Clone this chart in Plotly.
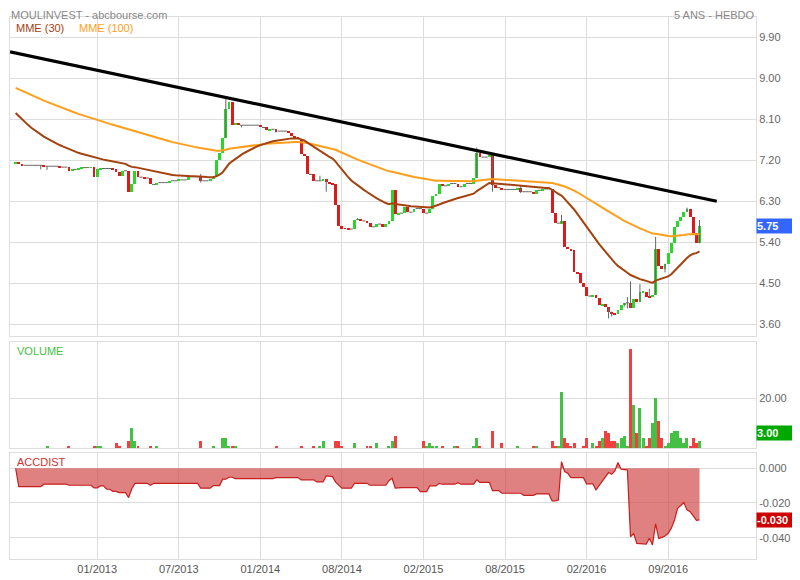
import plotly.graph_objects as go
from plotly.subplots import make_subplots

# ---------------- data (weekly bars) ----------------
closes = [
    7.17, 7.12, 7.09, 7.09, 7.09, 7.09, 7.09, 7.09, 7.09, 7.07,
    7.07, 7.07, 7.07, 7.07, 7.05, 7.05, 7.05, 6.97, 7.00, 7.00,
    7.03, 7.04, 7.04, 7.04, 7.05, 6.83, 7.00, 7.02, 7.02, 7.02,
    7.02, 7.00, 6.94, 6.86, 6.97, 6.97, 6.51, 6.67, 6.97, 6.83,
    6.83, 6.81, 6.81, 6.67, 6.67, 6.71, 6.71, 6.71, 6.71, 6.75,
    6.75, 6.75, 6.77, 6.77, 6.77, 6.84, 6.84, 6.84, 6.84, 6.75,
    6.75, 6.75, 6.79, 6.83, 7.21, 7.36, 7.70, 8.33, 8.49, 7.97,
    8.02, 7.97, 7.97, 7.97, 7.97, 7.97, 7.97, 7.97, 7.92, 7.92,
    7.86, 7.88, 7.88, 7.84, 7.84, 7.84, 7.84, 7.80, 7.74, 7.69,
    7.67, 7.34, 7.29, 6.89, 6.89, 6.75, 6.75, 6.75, 6.79, 6.72,
    6.69, 6.67, 6.21, 5.75, 5.71, 5.70, 5.69, 5.69, 5.89, 5.90,
    5.87, 5.87, 5.82, 5.74, 5.74, 5.80, 5.80, 5.73, 5.80, 5.87,
    6.54, 6.02, 6.04, 6.04, 6.17, 6.06, 6.06, 6.14, 6.14, 6.14,
    6.04, 6.04, 6.13, 6.42, 6.45, 6.69, 6.64, 6.64, 6.69, 6.69,
    6.69, 6.62, 6.62, 6.69, 6.69, 6.69, 6.82, 7.35, 7.27, 7.27,
    7.27, 7.32, 6.65, 6.60, 6.60, 6.56, 6.56, 6.56, 6.56, 6.56,
    6.60, 6.51, 6.51, 6.51, 6.51, 6.46, 6.54, 6.54, 6.57, 6.57,
    6.57, 6.05, 5.82, 5.82, 5.86, 5.29, 5.26, 5.23, 4.75, 4.72,
    4.50, 4.43, 4.22, 4.22, 4.24, 4.17, 4.02, 4.04, 3.97, 3.88,
    3.84, 3.82, 3.92, 4.02, 4.07, 4.07, 3.96, 4.15, 4.10, 4.30,
    4.32, 4.21, 4.19, 4.25, 5.26, 4.87, 4.82, 4.93, 5.16, 5.38,
    5.74, 5.86, 5.96, 6.07, 6.13, 5.96, 5.61, 5.38, 5.75,
]

opens = [
    7.13, 7.17, 7.12, 7.09, 7.09, 7.09, 7.09, 7.09, 7.09, 7.09,
    7.07, 7.07, 7.07, 7.07, 7.07, 7.05, 7.05, 7.05, 6.97, 7.00,
    7.00, 7.03, 7.04, 7.04, 7.04, 7.05, 6.83, 7.00, 7.02, 7.02,
    7.02, 7.02, 7.00, 6.94, 6.86, 6.97, 6.97, 6.51, 6.67, 6.97,
    6.83, 6.83, 6.81, 6.81, 6.67, 6.67, 6.71, 6.71, 6.71, 6.71,
    6.75, 6.75, 6.75, 6.77, 6.77, 6.77, 6.84, 6.84, 6.84, 6.84,
    6.75, 6.75, 6.75, 6.79, 6.83, 7.21, 7.36, 7.70, 8.33, 8.49,
    7.97, 8.02, 7.97, 7.97, 7.97, 7.97, 7.97, 7.97, 7.97, 7.92,
    7.92, 7.86, 7.88, 7.88, 7.84, 7.84, 7.84, 7.84, 7.80, 7.74,
    7.69, 7.67, 7.34, 7.29, 6.89, 6.89, 6.75, 6.75, 6.75, 6.79,
    6.72, 6.69, 6.67, 6.21, 5.75, 5.71, 5.70, 5.69, 5.69, 5.89,
    5.90, 5.87, 5.87, 5.82, 5.74, 5.74, 5.80, 5.80, 5.73, 5.80,
    5.87, 6.54, 6.02, 6.04, 6.04, 6.17, 6.06, 6.06, 6.14, 6.14,
    6.14, 6.04, 6.04, 6.13, 6.42, 6.45, 6.69, 6.64, 6.64, 6.69,
    6.69, 6.69, 6.62, 6.62, 6.69, 6.69, 6.69, 6.82, 7.35, 7.27,
    7.27, 7.27, 7.32, 6.65, 6.60, 6.60, 6.56, 6.56, 6.56, 6.56,
    6.56, 6.60, 6.51, 6.51, 6.51, 6.51, 6.46, 6.54, 6.54, 6.57,
    6.57, 6.57, 6.05, 5.82, 5.82, 5.86, 5.29, 5.26, 5.23, 4.75,
    4.72, 4.50, 4.43, 4.22, 4.22, 4.24, 4.17, 4.02, 4.04, 3.97,
    3.88, 3.84, 3.82, 3.92, 4.02, 4.07, 4.07, 3.96, 4.15, 4.10,
    4.30, 4.32, 4.21, 4.19, 4.25, 5.26, 4.87, 4.82, 4.93, 5.16,
    5.38, 5.74, 5.86, 5.96, 6.07, 6.13, 5.96, 5.61, 5.38,
]

# wick extremes beyond the body (bar index -> price)
wick_highs = {59: 6.90, 67: 8.55, 97: 6.86, 109: 5.93, 147: 7.48, 161: 6.65,
              174: 6.00, 195: 4.20, 196: 4.54, 199: 4.48, 202: 4.38,
              204: 5.52, 214: 6.16, 218: 5.89}
wick_lows = {8: 7.00, 10: 6.99, 31: 6.98, 59: 6.71, 72: 7.92, 83: 7.81,
             99: 6.51, 152: 6.51, 161: 6.48, 189: 3.73, 190: 3.77,
             194: 3.99, 195: 3.95, 207: 4.74}

volumes = [
    0, 0, 0, 0, 0, 0, 0, 0, 0, 0,
    1, 0, 0, 0, 0, 0, 0, 1, 0, 0,
    0, 0, 0, 0, 0, 1, 1, 1, 0, 0,
    0, 0, 2, 1, 0, 0, 3, 8, 3, 1,
    0, 0, 0, 1, 0, 1, 0, 0, 0, 0,
    0, 0, 0, 0, 0, 0, 0, 0, 0, 3,
    0, 0, 0, 1, 0, 0, 4, 4, 1, 1,
    1, 0, 0, 0, 0, 0, 0, 0, 0, 0,
    0, 0, 0, 1, 0, 0, 0, 0, 0, 0,
    0, 1, 0, 0, 0, 1, 0, 1, 3, 0,
    0, 0, 3, 3, 1, 0, 0, 0, 2, 0,
    0, 0, 1, 1, 0, 2, 0, 0, 0, 1,
    3, 5, 0, 0, 0, 0, 0, 0, 0, 0,
    3, 1, 2, 1, 1, 0, 1, 0, 0, 0,
    1, 1, 0, 0, 0, 0, 1, 4, 1, 0,
    0, 0, 7, 0, 0, 2, 0, 0, 0, 0,
    1, 0, 0, 0, 0, 1, 1, 0, 0, 0,
    0, 3, 1, 1, 22.4, 4, 2, 1, 2, 0,
    0, 1, 4, 0, 2, 1, 3, 4, 7, 6,
    3, 3, 2, 4, 5, 1, 39.6, 17.2, 6, 16,
    4, 1, 4, 10, 20, 11, 4, 1, 2, 6,
    7, 7, 4, 2, 4, 1, 4, 2, 3,
]

accdist = [
    0.0, -0.0106, -0.0106, -0.0106, -0.0106, -0.0106, -0.0106, -0.0106, -0.0106, -0.0092,
    -0.0092, -0.0092, -0.0092, -0.0092, -0.0092, -0.0092, -0.0092, -0.0098, -0.0098, -0.0098,
    -0.0098, -0.0098, -0.0098, -0.0098, -0.0098, -0.0113, -0.0113, -0.0102, -0.0102, -0.0121,
    -0.0121, -0.0133, -0.0133, -0.0140, -0.0140, -0.0140, -0.0169, -0.0120, -0.0087, -0.0087,
    -0.0087, -0.0087, -0.0087, -0.0098, -0.0087, -0.0087, -0.0087, -0.0087, -0.0087, -0.0087,
    -0.0087, -0.0087, -0.0087, -0.0087, -0.0087, -0.0087, -0.0087, -0.0087, -0.0087, -0.0115,
    -0.0115, -0.0115, -0.0115, -0.0100, -0.0100, -0.0100, -0.0063, -0.0063, -0.0052, -0.0052,
    -0.0060, -0.0060, -0.0060, -0.0060, -0.0060, -0.0060, -0.0060, -0.0060, -0.0060, -0.0060,
    -0.0060, -0.0060, -0.0060, -0.0054, -0.0054, -0.0054, -0.0054, -0.0054, -0.0054, -0.0054,
    -0.0054, -0.0067, -0.0067, -0.0067, -0.0067, -0.0067, -0.0079, -0.0079, -0.0079, -0.0044,
    -0.0044, -0.0048, -0.0080, -0.0096, -0.0115, -0.0115, -0.0115, -0.0115, -0.0087, -0.0087,
    -0.0087, -0.0087, -0.0087, -0.0098, -0.0098, -0.0098, -0.0098, -0.0098, -0.0098, -0.0072,
    -0.0058, -0.0115, -0.0112, -0.0112, -0.0112, -0.0112, -0.0112, -0.0112, -0.0112, -0.0135,
    -0.0135, -0.0135, -0.0102, -0.0102, -0.0102, -0.0087, -0.0092, -0.0092, -0.0092, -0.0092,
    -0.0092, -0.0083, -0.0092, -0.0092, -0.0092, -0.0092, -0.0092, -0.0067, -0.0081, -0.0081,
    -0.0081, -0.0081, -0.0129, -0.0129, -0.0129, -0.0144, -0.0144, -0.0144, -0.0144, -0.0144,
    -0.0144, -0.0144, -0.0156, -0.0156, -0.0156, -0.0156, -0.0148, -0.0148, -0.0148, -0.0148,
    -0.0148, -0.0188, -0.0188, -0.0183, 0.0038, -0.0019, -0.0029, -0.0054, -0.0054, -0.0054,
    -0.0054, -0.0054, -0.0090, -0.0090, -0.0090, -0.0125, -0.0100, -0.0077, -0.0045, -0.0025,
    -0.0035, -0.0015, 0.0033, -0.0006, -0.0008, -0.0010, -0.0395, -0.0375, -0.0433, -0.0435,
    -0.0437, -0.0437, -0.0404, -0.0442, -0.0321, -0.0404, -0.0398, -0.0390, -0.0375, -0.0345,
    -0.0300, -0.0231, -0.0215, -0.0198, -0.0240, -0.0250, -0.0275, -0.0300, -0.0298,
]

# moving-average start values read at the left edge
mme30_start = 8.24
mme100_start = 8.79

# resistance line end points (bar index, price)
trend_x = [-1.8, 223.5]
trend_y = [9.58, 6.30]

tick_bars = [26, 52, 78, 104, 130, 156, 182, 208]
tick_labels = ["01/2013", "07/2013", "01/2014", "08/2014",
               "02/2015", "08/2015", "02/2016", "09/2016"]
price_ticks = [3.60, 4.50, 5.40, 6.30, 7.20, 8.10, 9.00, 9.90]
acc_ticks = [0.0, -0.02, -0.04]

assert len(opens) == len(closes) == len(volumes) == len(accdist)

# ---------------- derived ----------------
N = len(closes)
idx = list(range(N))
highs = [max(o, c, wick_highs.get(i, -1e9)) for i, (o, c) in enumerate(zip(opens, closes))]
lows = [min(o, c, wick_lows.get(i, 1e9)) for i, (o, c) in enumerate(zip(opens, closes))]


def ema(vals, n, seed):
    a = 2.0 / (n + 1)
    out = [seed]
    for v in vals[1:]:
        out.append(a * v + (1 - a) * out[-1])
    return out


mme30 = ema(closes, 30, mme30_start)
mme100 = ema(closes, 100, mme100_start)

GREEN = "#2BD62B"
RED = "#DD1A1A"
GREY = "#666666"

up_x, up_b, up_h = [], [], []
dn_x, dn_b, dn_h = [], [], []
flat_x, flat_y = [], []
wick_x, wick_y = [], []
vol_cols = []
for i in idx:
    o, c = opens[i], closes[i]
    if highs[i] > max(o, c) or lows[i] < min(o, c):
        wick_x += [i, i, None]
        wick_y += [lows[i], highs[i], None]
    if c > o:
        up_x.append(i); up_b.append(o); up_h.append(c - o)
    elif c < o:
        dn_x.append(i); dn_b.append(c); dn_h.append(o - c)
    else:
        flat_x += [i - 0.5, i + 0.5, None]
        flat_y += [c, c, None]
    prev = closes[i - 1] if i > 0 else o
    if c > o or (c == o and c >= prev):
        vol_cols.append("#44C044")
    else:
        vol_cols.append("#F04040")

# ---------------- figure ----------------
fig = make_subplots(rows=3, cols=1, shared_xaxes=True, vertical_spacing=0.01)

fig.add_trace(go.Scatter(x=wick_x, y=wick_y, mode="lines",
                         line=dict(color=GREY, width=1), hoverinfo="skip"), 1, 1)
fig.add_trace(go.Scatter(x=flat_x, y=flat_y, mode="lines",
                         line=dict(color=GREY, width=1), hoverinfo="skip"), 1, 1)
fig.add_trace(go.Bar(x=up_x, y=up_h, base=up_b, width=0.9,
                     marker=dict(color=GREEN, line=dict(width=0))), 1, 1)
fig.add_trace(go.Bar(x=dn_x, y=dn_h, base=dn_b, width=0.9,
                     marker=dict(color=RED, line=dict(width=0))), 1, 1)
fig.add_trace(go.Scatter(x=idx, y=mme100, mode="lines",
                         line=dict(color="#FF9E1B", width=2)), 1, 1)
fig.add_trace(go.Scatter(x=idx, y=mme30, mode="lines",
                         line=dict(color="#A4420F", width=2)), 1, 1)
fig.add_trace(go.Scatter(x=trend_x, y=trend_y, mode="lines",
                         line=dict(color="#000000", width=3.2)), 1, 1)

fig.add_trace(go.Bar(x=idx, y=volumes, width=0.95,
                     marker=dict(color=vol_cols, line=dict(width=0))), 2, 1)

fig.add_trace(go.Scatter(x=idx, y=accdist, mode="lines", fill="tozeroy",
                         fillcolor="rgba(208,70,70,0.68)",
                         line=dict(color="#C81E1E", width=1.2)), 3, 1)

FONT = "Liberation Sans, Arial, sans-serif"
GRID = "#DDDDDD"

# the page adds an 8px body margin, so the figure is 8px smaller and shifted
fig.update_layout(
    width=792, height=572,
    margin=dict(l=2, r=44, t=9, b=21, autoexpand=False),
    paper_bgcolor="white", plot_bgcolor="white",
    showlegend=False, barmode="overlay", bargap=0,
    font=dict(family=FONT, size=11, color="#666666"),
    yaxis=dict(domain=[0.4114, 1.0], range=[3.343, 10.345]),
    yaxis2=dict(domain=[0.2048, 0.4004], range=[0, 42.6]),
    yaxis3=dict(domain=[0.0, 0.1956], range=[-0.0523, 0.0088]),
)

for ax in ("xaxis", "xaxis2", "xaxis3"):
    fig.layout[ax].update(range=[-1.8, 236.0], tickvals=tick_bars, ticktext=tick_labels,
                          showgrid=True, gridcolor=GRID, gridwidth=1, zeroline=False,
                          showline=True, linecolor=GRID, mirror=True, ticks="",
                          automargin=False,
                          tickfont=dict(size=11, color="#555555"))
fig.layout.xaxis3.showticklabels = True

fig.update_yaxes(side="right", showgrid=True, gridcolor=GRID, zeroline=False,
                 showline=True, linecolor=GRID, mirror=True, ticks="",
                 automargin=False,
                 tickfont=dict(size=11, color="#666666"))
fig.layout.yaxis.update(tickvals=price_ticks, ticktext=["%.2f" % v for v in price_ticks])
fig.layout.yaxis2.update(tickvals=[20], ticktext=["20.00"])
fig.layout.yaxis3.update(tickvals=acc_ticks, ticktext=["0.000", "-0.020", "-0.040"])

top_y = 1 + 9 / 542.0  # top edge of the figure in paper units
ann = []
ann.append(dict(xref="paper", yref="paper", x=0, y=top_y, xanchor="left", yanchor="top",
                text="MOULINVEST - abcbourse.com", showarrow=False, borderpad=0,
                font=dict(size=11, color="#888888")))
ann.append(dict(xref="paper", yref="paper", x=1, y=top_y, xanchor="right", yanchor="top",
                text="5 ANS - HEBDO", showarrow=False, borderpad=0,
                font=dict(size=11, color="#888888")))
ann.append(dict(xref="paper", yref="paper", x=0.0067, y=0.9805, xanchor="left", yanchor="middle",
                text="MME (30)", showarrow=False, borderpad=0,
                font=dict(size=11, color="#A4420F")))
ann.append(dict(xref="paper", yref="paper", x=0.0912, y=0.9805, xanchor="left", yanchor="middle",
                text="MME (100)", showarrow=False, borderpad=0,
                font=dict(size=11, color="#FF9E1B")))
ann.append(dict(xref="paper", yref="paper", x=0.0067, y=0.3838, xanchor="left", yanchor="middle",
                text="VOLUME", showarrow=False, font=dict(size=11, color="#44C044")))
ann.append(dict(xref="paper", yref="paper", x=0.0067, y=0.179, xanchor="left", yanchor="middle",
                text="ACCDIST", showarrow=False, font=dict(size=11, color="#D03030")))
# last-value badges
ann.append(dict(xref="paper", yref="y", x=1, y=closes[-1], xanchor="left", yanchor="middle",
                text="<b>%.2f</b>" % closes[-1], showarrow=False, align="left",
                width=42, height=14, borderpad=0, bgcolor="#3366FF",
                font=dict(size=11, color="white")))
ann.append(dict(xref="paper", yref="y2", x=1, y=volumes[-1], xanchor="left", yanchor="bottom",
                text="<b>%.2f</b>" % volumes[-1], showarrow=False, align="left",
                width=42, height=14, borderpad=0, bgcolor="#00A800",
                font=dict(size=11, color="white")))
ann.append(dict(xref="paper", yref="y3", x=1, y=accdist[-1], xanchor="left", yanchor="middle",
                text="<b>%.3f</b>" % accdist[-1], showarrow=False, align="left",
                width=42, height=14, borderpad=0, bgcolor="#CC0000",
                font=dict(size=11, color="white")))
fig.update_layout(annotations=ann)

fig.write_html("out.html")
